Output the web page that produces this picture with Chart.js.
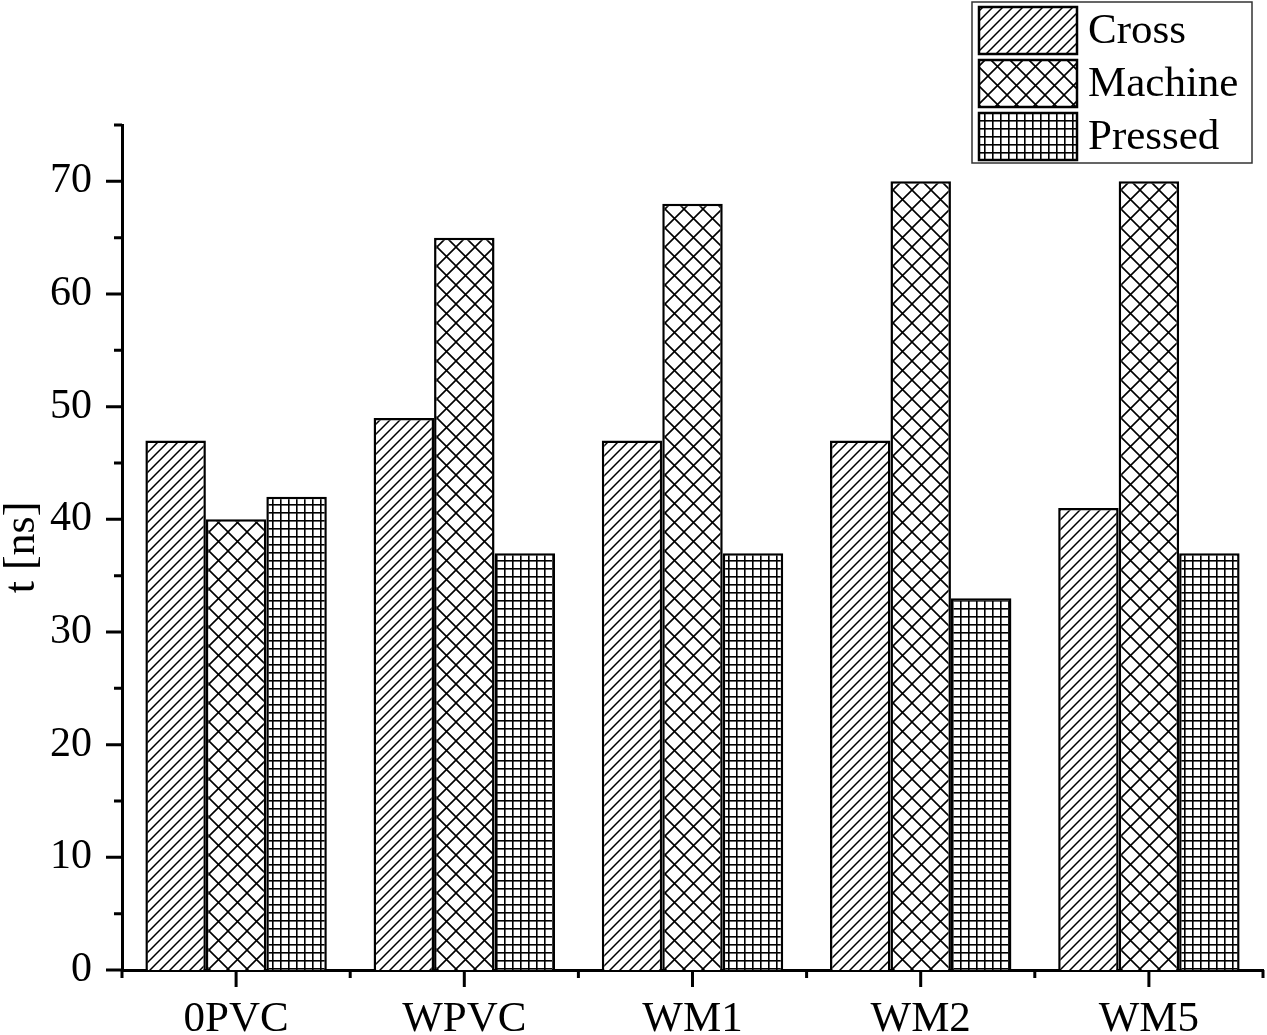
<!DOCTYPE html>
<html>
<head>
<meta charset="utf-8">
<script src="https://cdn.jsdelivr.net/npm/chart.js@4.4.1/dist/chart.umd.min.js"></script>
<style>
  html, body { margin: 0; padding: 0; background: #fff; }
  #wrap { width: 1267px; height: 1035px; }
</style>
</head>
<body>
<div id="wrap"><canvas id="myChart" width="1267" height="1035"></canvas></div>
<script>
// values
const categories = ['0PVC', 'WPVC', 'WM1', 'WM2', 'WM5'];
const crossValues = [47, 49, 47, 47, 41];
const machineValues = [40, 65, 68, 70, 70];
const pressedValues = [42, 37, 37, 33, 37];
const seriesNames = ['Cross', 'Machine', 'Pressed'];
const yTicks = [0, 10, 20, 30, 40, 50, 60, 70];

const FONT = '"Liberation Serif", "Times New Roman", serif';

// hatch fills, built once as small tiles
function makeTile(size, draw) {
    const c = document.createElement('canvas');
    c.width = size;
    c.height = size;
    const t = c.getContext('2d');
    t.fillStyle = '#fff';
    t.fillRect(0, 0, size, size);
    t.strokeStyle = '#000';
    t.fillStyle = '#000';
    draw(t, size);
    return c;
}

const ctx = document.getElementById('myChart').getContext('2d');

const diagTile = makeTile(10, (t, s) => {
    t.lineWidth = 1.5;
    t.beginPath();
    t.moveTo(-2, s + 2); t.lineTo(s + 2, -2);
    t.moveTo(-2, 2); t.lineTo(2, -2);
    t.moveTo(s - 2, s + 2); t.lineTo(s + 2, s - 2);
    t.stroke();
});
const crossTile = makeTile(19, (t, s) => {
    t.lineWidth = 1.6;
    t.beginPath();
    t.moveTo(-1, -1); t.lineTo(s + 1, s + 1);
    t.moveTo(-1, s + 1); t.lineTo(s + 1, -1);
    t.stroke();
});
const gridTile = makeTile(8, (t, s) => {
    t.fillRect(0, 0, s, 1.6);
    t.fillRect(0, 0, 1.6, s);
});

const fills = [
    ctx.createPattern(diagTile, 'repeat'),
    ctx.createPattern(crossTile, 'repeat'),
    ctx.createPattern(gridTile, 'repeat')
];

// ticks (major/minor) and the framed legend
const decorPlugin = {
    id: 'decor',
    afterDraw(chart) {
        const c = chart.ctx;
        const x = chart.scales.x;
        const y = chart.scales.y;
        const area = chart.chartArea;
        c.save();
        c.strokeStyle = '#000';
        c.lineWidth = 3;
        c.beginPath();
        y.ticks.forEach(tk => {
            const py = y.getPixelForValue(tk.value);
            const len = tk.value % 10 === 0 ? 16 : 8;
            c.moveTo(area.left, py);
            c.lineTo(area.left - len, py);
        });
        const c0 = x.getPixelForValue(0);
        const step = x.getPixelForValue(1) - c0;
        categories.forEach((cat, i) => {
            const px = x.getPixelForValue(i);
            c.moveTo(px, area.bottom);
            c.lineTo(px, area.bottom + 17);
        });
        for (let i = 0; i <= categories.length; i++) {
            const px = c0 - step / 2 + i * step;
            c.moveTo(px, area.bottom);
            c.lineTo(px, area.bottom + 8);
        }
        c.stroke();

        // legend
        const lx = 972, ly = 2, lw = 280, lh = 161;
        c.lineWidth = 1.5;
        c.strokeStyle = '#333';
        c.fillStyle = '#fff';
        c.fillRect(lx, ly, lw, lh);
        c.strokeRect(lx, ly, lw, lh);
        c.font = '43px ' + FONT;
        c.textBaseline = 'middle';
        c.textAlign = 'left';
        chart.data.datasets.forEach((ds, i) => {
            const sy = 7 + i * 53;
            c.fillStyle = ds.backgroundColor;
            c.fillRect(979, sy, 98, 47);
            c.lineWidth = 2.5;
            c.strokeStyle = '#000';
            c.strokeRect(979, sy, 98, 47);
            c.fillStyle = '#000';
            c.fillText(ds.label, 1088, sy + 25);
        });
        c.restore();
    }
};

new Chart(ctx, {
    type: 'bar',
    data: {
        labels: categories,
        datasets: [crossValues, machineValues, pressedValues].map((vals, i) => ({
            label: seriesNames[i],
            data: vals,
            backgroundColor: fills[i],
            borderColor: '#000',
            borderWidth: 2.5,
            categoryPercentage: 0.795,
            barPercentage: 1
        }))
    },
    options: {
        responsive: false,
        animation: false,
        devicePixelRatio: 1,
        layout: { padding: { left: 0, right: 4, top: 125, bottom: 0 } },
        plugins: {
            legend: { display: false },
            tooltip: { enabled: false }
        },
        scales: {
            x: {
                grid: { display: false, drawTicks: false },
                border: { display: true, color: '#000', width: 3 },
                ticks: {
                    color: '#000',
                    padding: 24,
                    font: { family: FONT, size: 43 }
                },
                afterFit(scale) { scale.height = 65; }
            },
            y: {
                min: 0,
                max: 75,
                grid: { display: false, drawTicks: false },
                border: { display: true, color: '#000', width: 3 },
                ticks: {
                    stepSize: 5,
                    color: '#000',
                    padding: 30,
                    font: { family: FONT, size: 42 },
                    callback: v => yTicks.includes(v) ? String(v) : ''
                },
                title: {
                    display: true,
                    text: 't [ns]',
                    color: '#000',
                    padding: 0,
                    font: { family: FONT, size: 44, lineHeight: 1 }
                },
                afterFit(scale) { scale.width = 122; }
            }
        }
    },
    plugins: [decorPlugin]
});
</script>
</body>
</html>
